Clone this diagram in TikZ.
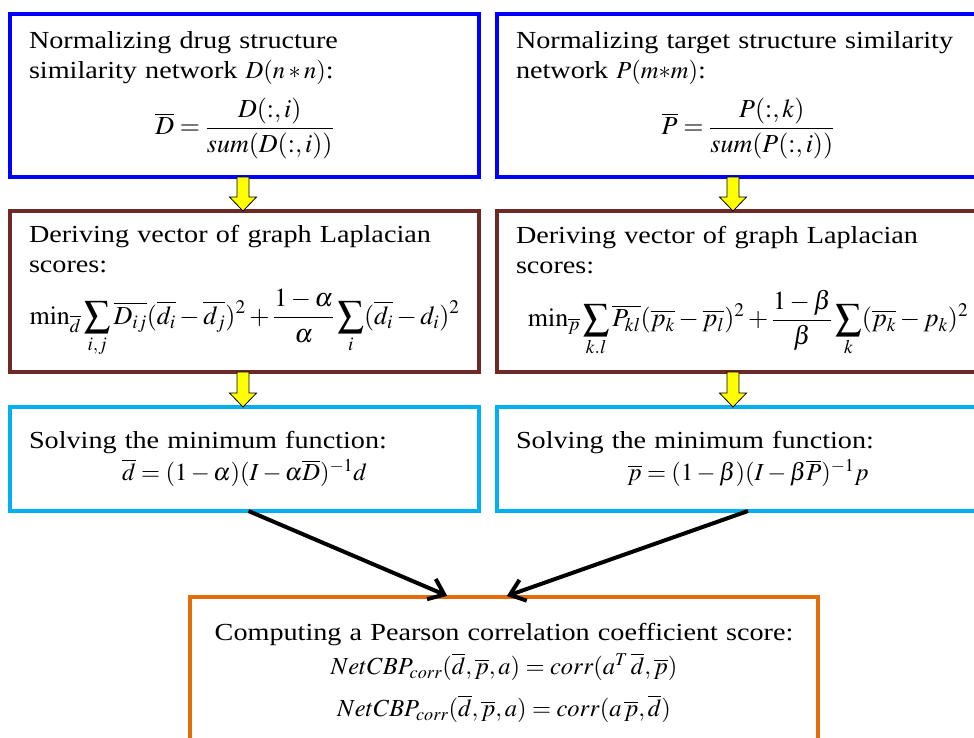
\documentclass[tikz,border=0pt]{standalone}
\usepackage{mathptmx}
\usepackage[no-math]{fontspec}
\setmainfont{Liberation Serif}[FakeStretch=1.15]
\usetikzlibrary{arrows.meta,positioning,calc}
\definecolor{drugblue}{HTML}{0000FF}
\definecolor{scorebrown}{HTML}{6B2A26}
\definecolor{solvecyan}{HTML}{00B0F0}
\definecolor{corrorange}{HTML}{E46C0A}
\definecolor{flowyellow}{HTML}{FFFF00}

% larger size for the displayed formulas
\newcommand{\eqsize}{\fontsize{26}{30}\selectfont}
% formula line centred in the box
\newcommand{\eqline}[1]{\makebox[\hsize]{#1}}

% yellow block arrow from the bottom of one box to the top of the next
\newcommand{\fatarrow}[3][0pt]{%
  \draw[flow] let \p1=([xshift=#1]#2.south), \p2=(#3.north) in
    (\x1-6pt,\y1) -- (\x1+6pt,\y1) -- (\x1+6pt,\y2+14pt) -- (\x1+13.5pt,\y2+14pt)
    -- (\x1,\y2) -- (\x1-13.5pt,\y2+14pt) -- (\x1-6pt,\y2+14pt) -- cycle;}

\begin{document}
\begin{tikzpicture}[x=1pt, y=-1pt,
  font=\fontsize{24.5}{30}\selectfont,
  stage/.style={rectangle, line width=4pt, outer sep=0pt, align=left, inner xsep=19pt, inner ysep=4pt},
  normbox/.style={stage, draw=drugblue, minimum height=163pt},
  scorebox/.style={stage, draw=scorebrown, minimum height=161pt},
  solvebox/.style={stage, draw=solvecyan, minimum height=104pt},
  leftcol/.style={text width=431pt},
  rightcol/.style={text width=464pt},
  corrbox/.style={stage, draw=corrorange, align=center, text width=590pt, minimum height=152pt},
  flow/.style={fill=flowyellow, draw=black, line width=0.8pt},
  link/.style={-{Straight Barb[length=14pt,width=22pt]}, line width=4pt, shorten >=3pt}
]
  \useasboundingbox (0,0) rectangle (974,737);
  \fill[white] (0,0) rectangle (974,737);
  \clip (0,0) rectangle (974,737);

  \node[normbox, leftcol, anchor=north west] (drugnorm) at (10,14) {Normalizing drug structure\\
    similarity network $D(n*n)$:\\[12pt]
    \eqline{\eqsize$\displaystyle \overline{D}=\frac{D({:},i)}{sum(D({:},i))}$}};
  \node[normbox, rightcol, right=18pt of drugnorm] (targetnorm) {Normalizing target structure similarity\\
    network $P(m{*}m)$:\\[12pt]
    \eqline{\eqsize$\displaystyle \overline{P}=\frac{P({:},k)}{sum(P({:},i))}$}};

  \node[scorebox, leftcol, below=34pt of drugnorm] (drugscore) {Deriving vector of graph Laplacian\\
    scores:\\[15pt]
    \eqline{\eqsize$\displaystyle \min\nolimits_{\overline{d}}\sum_{i,j}\overline{D_{ij}}(\overline{d_i}-\overline{d_j})^2
      +\frac{1-\alpha}{\alpha}\sum_{i}(\overline{d_i}-d_i)^2$}};
  \node[scorebox, rightcol, below=34pt of targetnorm] (targetscore) {Deriving vector of graph Laplacian\\
    scores:\\[15pt]
    \eqline{\eqsize$\displaystyle \min\nolimits_{\overline{p}}\sum_{k.l}\overline{P_{kl}}(\overline{p_k}-\overline{p_l})^2
      +\frac{1-\beta}{\beta}\sum_{k}(\overline{p_k}-p_k)^2$}};

  \node[solvebox, leftcol, below=35pt of drugscore] (drugsolve) {Solving the minimum function:\\[2pt]
    \eqline{$\overline{d}=(1-\alpha)(I-\alpha\overline{D})^{-1}d$}};
  \node[solvebox, rightcol, below=35pt of targetscore] (targetsolve) {Solving the minimum function:\\[2pt]
    \eqline{$\overline{p}=(1-\beta)(I-\beta\overline{P})^{-1}p$}};

  \node[corrbox, anchor=north] (corr) at (504,597) {Computing a Pearson correlation coefficient score:\\[4pt]
    \eqline{$NetCBP_{corr}(\overline{d},\overline{p},a)=corr(a^{T}\,\overline{d},\overline{p})$}\\[12pt]
    \eqline{$NetCBP_{corr}(\overline{d},\overline{p},a)=corr(a\,\overline{p},\overline{d})$}};

  \fatarrow[-1.5pt]{drugnorm}{drugscore}
  \fatarrow[-15pt]{targetnorm}{targetscore}
  \fatarrow[-1.5pt]{drugscore}{drugsolve}
  \fatarrow[-15pt]{targetscore}{targetsolve}

  \draw[link] ([xshift=4pt]drugsolve.south) -- ([xshift=-54pt]corr.north);
  \draw[link] (targetsolve.south) -- (corr.north);
\end{tikzpicture}
\end{document}
